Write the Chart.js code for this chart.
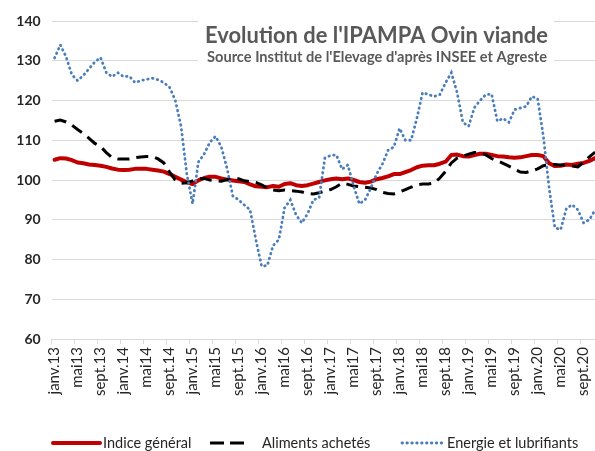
<!DOCTYPE html>
<html><head><meta charset="utf-8">
<script src="https://cdn.jsdelivr.net/npm/chart.js@4/dist/chart.umd.min.js"></script>
<style>
html,body{margin:0;padding:0;overflow:hidden;background:#fff;width:595px;height:451px}
#wrap{position:relative;width:600px;height:451px}
</style></head>
<body><div id="wrap"><canvas id="c" width="600" height="451"></canvas></div>
<script>
const titleText = "Evolution de l'IPAMPA Ovin viande";
const subtitleText = "Source Institut de l'Elevage d'après INSEE et Agreste";
const seriesNames = ['Indice général', 'Aliments achetés', 'Energie et lubrifiants'];
const monthNames = ['janv.','févr.','mars','avr.','mai','juin','juil.','août','sept.','oct.','nov.','déc.'];
const years = ['13','14','15','16','17','18','19','20'];
const categories = [];
years.forEach(y => monthNames.forEach(m => categories.push(m + y)));
categories.length = 95; // janv.13 -> nov.20
const yTicks = [60, 70, 80, 90, 100, 110, 120, 130, 140];

const indiceGeneral = [
105.1,105.5,105.4,105.0,104.4,104.2,103.9,103.8,103.6,103.3,
102.9,102.6,102.5,102.6,102.8,102.8,102.8,102.6,102.4,102.1,
101.5,100.8,100.1,99.4,99.0,99.9,100.5,100.8,100.8,100.4,
100.1,99.9,99.7,99.5,98.9,98.4,98.3,98.2,98.5,98.3,
99.0,99.2,98.7,98.5,98.7,99.1,99.5,99.9,100.2,100.4,
100.2,100.4,100.0,99.5,99.3,99.6,100.2,100.5,100.9,101.5,
101.5,102.0,102.5,103.2,103.6,103.7,103.7,104.1,104.6,106.3,
106.4,106.0,105.9,106.3,106.6,106.6,106.3,106.0,105.9,105.7,
105.6,105.7,106.0,106.3,106.3,106.0,104.2,103.5,103.6,103.9,
103.8,104.1,104.3,104.8,105.5];

const alimentsAchetes = [
114.8,115.1,114.6,113.8,112.7,111.7,110.5,109.2,108.4,106.9,
105.6,105.3,105.3,105.3,105.6,105.8,105.9,105.9,105.3,104.3,
102.0,100.0,99.2,99.3,99.8,100.3,100.4,100.0,99.8,99.7,
100.1,100.4,100.3,99.8,99.6,99.4,98.8,98.0,97.5,97.3,
97.5,97.3,97.2,97.0,96.6,96.5,96.8,97.2,97.6,98.3,
99.2,98.9,98.5,98.3,98.2,98.0,97.6,96.9,96.6,96.5,
97.0,97.6,98.2,98.8,99.0,99.0,99.2,100.5,102.2,104.3,
105.5,106.0,106.5,106.9,106.9,106.3,105.4,104.8,104.2,103.5,
102.7,102.0,101.9,102.3,102.8,103.6,103.8,103.9,103.8,103.8,
103.5,103.3,104.5,105.8,107.0];

const energieLubrifiants = [
130.7,134.0,131.0,126.5,125.0,126.3,128.0,129.7,130.8,127.0,
126.0,127.0,126.0,126.1,124.5,125.0,125.3,125.6,125.2,124.5,
123.3,120.0,113.5,101.5,94.0,104.5,106.5,109.5,111.0,108.3,
102.9,96.0,95.0,93.7,92.5,85.0,78.3,78.5,83.5,85.0,
93.0,95.0,91.2,89.2,91.5,95.0,95.5,105.5,106.2,106.3,
102.7,103.8,98.5,94.0,95.0,98.0,101.5,104.0,107.5,108.3,
113.0,110.0,110.0,115.5,122.0,121.5,121.0,121.5,124.5,127.0,
122.0,114.5,113.5,118.2,120.0,121.5,121.6,114.8,115.5,114.5,
117.7,118.1,118.5,121.0,120.5,111.0,98.0,88.0,87.5,92.8,
93.8,92.5,89.2,90.0,92.5];

function fitText(ctx, text, weight, family, targetW, cx, by) {
  ctx.font = weight + ' 20px ' + family;
  const w = ctx.measureText(text).width;
  const size = 20 * targetW / w;
  ctx.font = weight + ' ' + size.toFixed(2) + 'px ' + family;
  ctx.fillText(text, cx, by);
}

const titlePlugin = {
  id: 'titleBox',
  beforeDatasetsDraw(chart) {
    const ctx = chart.ctx;
    ctx.save();
    ctx.fillStyle = '#ffffff';
    ctx.fillRect(198, 12, 356, 56);
    ctx.fillStyle = '#595959';
    ctx.textAlign = 'center';
    ctx.textBaseline = 'alphabetic';
    fitText(ctx, titleText, 'bold', 'Lato', 343, 376.5, 43);
    fitText(ctx, subtitleText, 'bold', 'Lato', 340, 377, 62);
    ctx.restore();
  }
};

// legend entries: sample line start/end and text start (layout only)
const legendLayout = [
  { x1: 53, x2: 100, tx: 103 },
  { x1: 210, x2: 250, tx: 262 },
  { x1: 402, x2: 444, tx: 447 }
];
const legendPlugin = {
  id: 'bottomLegend',
  afterDraw(chart) {
    const ctx = chart.ctx;
    const y = 443;
    ctx.save();
    chart.data.datasets.forEach((ds, i) => {
      const L = legendLayout[i];
      ctx.beginPath();
      ctx.strokeStyle = ds.borderColor;
      ctx.lineWidth = ds.borderWidth;
      ctx.lineCap = ds.borderCapStyle || 'butt';
      ctx.setLineDash(ds.legendDash || ds.borderDash || []);
      ctx.moveTo(L.x1, y);
      ctx.lineTo(L.x2, y);
      ctx.stroke();
      ctx.setLineDash([]);
      ctx.fillStyle = '#262626';
      ctx.font = '14.5px Lato';
      ctx.textAlign = 'left';
      ctx.textBaseline = 'middle';
      ctx.fillText(ds.label, L.tx, y);
    });
    ctx.restore();
  }
};

new Chart(document.getElementById('c'), {
  type: 'line',
  data: {
    labels: categories,
    datasets: [
      { label: seriesNames[0], data: indiceGeneral, borderColor: '#c00000', backgroundColor: '#c00000',
        borderWidth: 4, pointRadius: 0, tension: 0, borderCapStyle: 'round', borderJoinStyle: 'round', order: 3 },
      { label: seriesNames[1], data: alimentsAchetes, borderColor: '#000000', backgroundColor: '#000000',
        borderWidth: 3, borderDash: [12, 7], legendDash: [14, 6], pointRadius: 0, tension: 0, borderCapStyle: 'butt', order: 2 },
      { label: seriesNames[2], data: energieLubrifiants, borderColor: '#4a7ebb', backgroundColor: '#4a7ebb',
        borderWidth: 2.8, borderDash: [0.5, 4.4], borderCapStyle: 'round', pointRadius: 0, tension: 0, order: 1 }
    ]
  },
  options: {
    responsive: false, animation: false, devicePixelRatio: 1,
    layout: { padding: { left: 0, right: 2, top: 21, bottom: 52 } },
    plugins: {
      legend: { display: false },
      tooltip: { enabled: false }
    },
    scales: {
      x: {
        offset: true,
        grid: {
          offset: true, drawOnChartArea: false, drawTicks: true, tickLength: 5,
          color: c => (c.index % 4 === 0 ? '#d9d9d9' : 'rgba(0,0,0,0)')
        },
        border: { color: '#d9d9d9' },
        ticks: {
          autoSkip: false, minRotation: 90, maxRotation: 90, padding: 3,
          color: '#262626', font: { family: 'Lato', size: 15 },
          callback: (v, i) => (i % 4 === 0 ? categories[i] : '')
        },
        afterFit: s => { s.paddingLeft = 0; s.paddingRight = 0; s.height = 60; }
      },
      y: {
        min: yTicks[0], max: yTicks[yTicks.length - 1],
        afterBuildTicks: s => { s.ticks = yTicks.map(v => ({ value: v })); },
        grid: { color: '#d9d9d9', drawTicks: false },
        border: { display: false },
        ticks: { padding: 11, color: '#262626', font: { family: 'Lato', size: 14, weight: 'bold' } },
        afterFit: s => { s.width = 51.7; s.paddingTop = 0; s.paddingBottom = 0; }
      }
    }
  },
  plugins: [titlePlugin, legendPlugin]
});
</script>
</body></html>
